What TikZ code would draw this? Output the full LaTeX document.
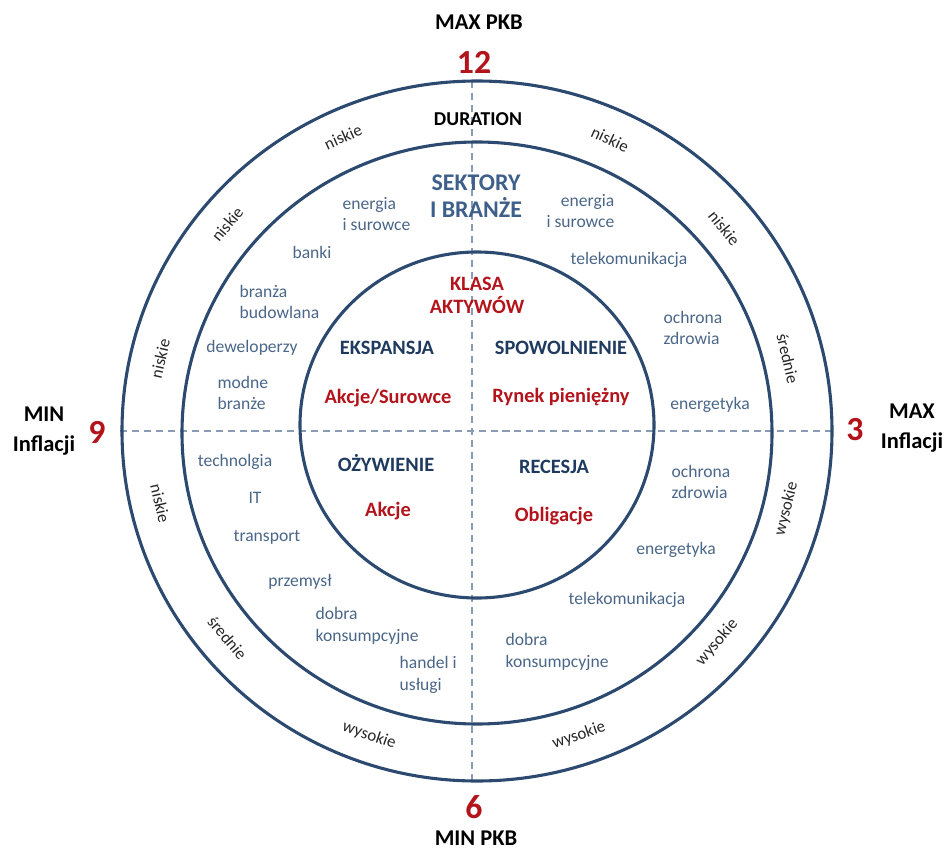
\documentclass[tikz,border=0pt]{standalone}
\usepackage{fontspec}
\setmainfont{Carlito}

\definecolor{kolo}{HTML}{2C4A70}
\definecolor{przerywana}{HTML}{8A9BB5}
\definecolor{bordo}{HTML}{B3141C}
\definecolor{granat}{HTML}{1F3A5F}
\definecolor{stalowy}{HTML}{3E5F8A}
\definecolor{szaroniebieski}{HTML}{4A6688}

\tikzset{
  okrag/.style={kolo, line width=2.2pt},
  osie/.style={przerywana, line width=1pt, dash pattern=on 5pt off 3.5pt},
  branza/.style={text=szaroniebieski, font=\fontsize{12.5}{15.5}\selectfont, inner sep=1pt},
  faza/.style={text=granat, font=\fontsize{14.5}{17}\selectfont\bfseries},
  aktywa/.style={text=bordo, font=\fontsize{14.5}{16.5}\selectfont\bfseries, align=center},
  pierscien/.style={text=black!85, font=\fontsize{12}{14}\selectfont},
  godzina/.style={text=bordo, font=\fontsize{24}{28}\selectfont\bfseries},
  opis/.style={font=\fontsize{16}{21}\selectfont\bfseries, align=center},
}

\begin{document}
\begin{tikzpicture}[x=0.025cm, y=0.025cm]
  \useasboundingbox (-474,-419) rectangle (477,431);

  % osie zegara
  \coordinate (gora) at (-2,350);
  \coordinate (dol) at (-2,-350);
  \coordinate (lewo) at (-354,0);
  \coordinate (prawo) at (358,0);
  \draw[osie] (gora) -- (dol);
  \draw[osie] (lewo) -- (prawo);

  % trzy okregi
  \draw[okrag] (3,0) ellipse (355 and 350);
  \draw[okrag] (3,-2) ellipse (295 and 291);
  \draw[okrag] (3,6) ellipse (177 and 173);

  % godziny i opisy osi
  \node[opis] (maxpkb) at (5,409) {MAX PKB};
  \node[godzina] (g12) at (0,369) {12};
  \node[godzina] (g6) at (0,-376) {6};
  \node[opis] (minpkb) at (2,-407) {MIN PKB};
  \node[godzina] (g9) at (-377,-1) {9};
  \node[opis] (mininf) at (-430,0) {MIN\\Inflacji};
  \node[godzina] (g3) at (381,1) {3};
  \node[opis] (maxinf) at (438,3) {MAX\\Inflacji};

  % pierscien zewnetrzny - duration
  \node[font=\fontsize{14}{16}\selectfont\bfseries] (duration) at (4,312) {DURATION};
  \foreach \kat/\obrot/\napis in {114/24/niskie, 140/50/niskie, 167/77/niskie,
      193/-77/niskie, 220/-50/średnie, 251/-19/wysokie,
      289/19/wysokie, 319/49/wysokie, 346/76/wysokie,
      13/-77/średnie, 39/-51/niskie, 65/-25/niskie} {
    \node[pierscien, rotate=\obrot] (d\kat) at (\kat:322) {\napis};
  }

  % pierscien srodkowy - sektory
  \node[text=stalowy, font=\fontsize{17}{19.5}\selectfont\bfseries, align=center]
    (sektory) at (2,235) {SEKTORY\\I BRANŻE};
  \node[branza, anchor=west, align=left] (s1) at (-133,217) {energia\\i surowce};
  \node[branza, anchor=east, align=right] (s2) at (142,220) {energia\\i surowce};
  \node[branza] (s3) at (-162,179) {banki};
  \node[branza, anchor=west, align=left] (s4) at (-236,129) {branża\\budowlana};
  \node[branza] (s5) at (-222,83) {deweloperzy};
  \node[branza, anchor=west, align=left] (s6) at (-258,38) {modne\\branże};
  \node[branza] (s7) at (155,171) {telekomunikacja};
  \node[branza, anchor=west, align=left] (s8) at (188,103) {ochrona\\zdrowia};
  \node[branza] (s9) at (236,26) {energetyka};
  \node[branza] (s10) at (-239,-31) {technolgia};
  \node[branza] (s11) at (-219,-67) {IT};
  \node[branza] (s12) at (-207,-106) {transport};
  \node[branza] (s13) at (-174,-151) {przemysł};
  \node[branza, anchor=west, align=left] (s14) at (-160,-195) {dobra\\konsumpcyjne};
  \node[branza, anchor=west, align=left] (s15) at (-76,-244) {handel i\\usługi};
  \node[branza, anchor=west, align=left] (s16) at (196,-51) {ochrona\\zdrowia};
  \node[branza] (s17) at (202,-119) {energetyka};
  \node[branza] (s18) at (153,-169) {telekomunikacja};
  \node[branza, anchor=west, align=left] (s19) at (30,-221) {dobra\\konsumpcyjne};

  % kolo wewnetrzne - fazy cyklu
  \node[aktywa] (klasa) at (3,136) {KLASA\\AKTYWÓW};
  \node[faza] (ekspansja) at (-87,83) {EKSPANSJA};
  \node[faza] (spowolnienie) at (87,83) {SPOWOLNIENIE};
  \node[faza] (ozywienie) at (-88,-32) {OŻYWIENIE};
  \node[faza] (recesja) at (80,-36) {RECESJA};
  \node[aktywa] (a1) at (-86,33) {Akcje/Surowce};
  \node[aktywa] (a2) at (87,34) {Rynek pieniężny};
  \node[aktywa] (a3) at (-86,-80) {Akcje};
  \node[aktywa] (a4) at (80,-85) {Obligacje};
\end{tikzpicture}
\end{document}
